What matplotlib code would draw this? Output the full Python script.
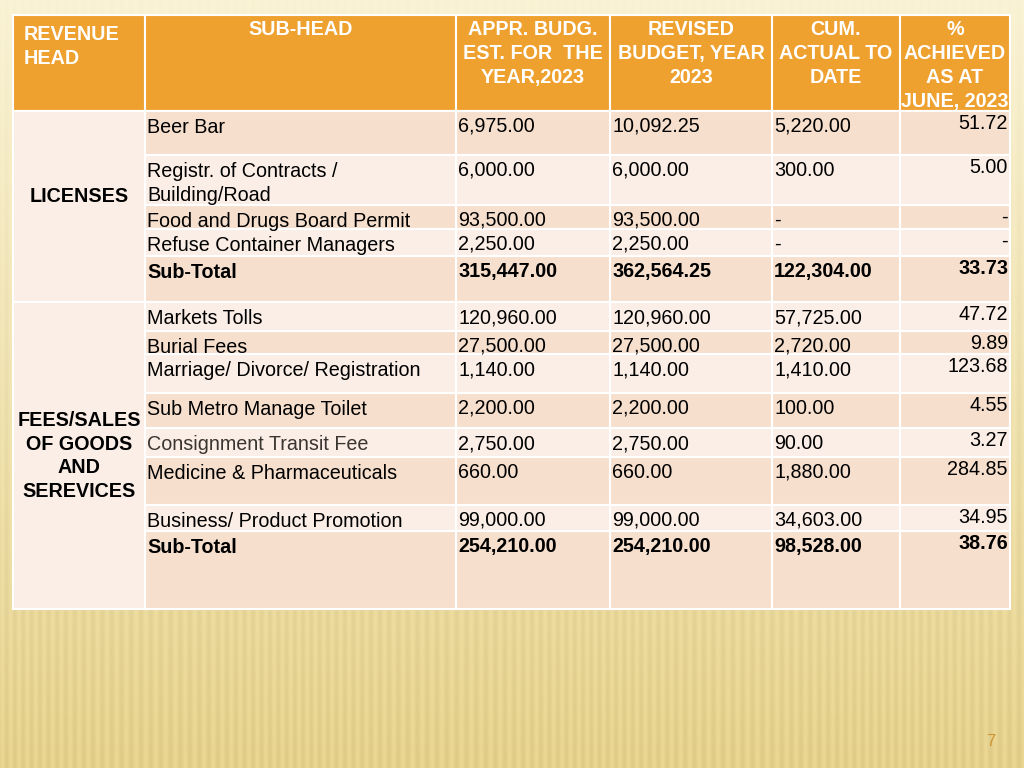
import numpy as np
import matplotlib.pyplot as plt
from matplotlib.patches import Rectangle

plt.rcParams['font.family'] = ['Liberation Sans', 'DejaVu Sans']

# table data
headers = ["REVENUE\nHEAD", "SUB-HEAD", "APPR. BUDG.\nEST. FOR  THE\nYEAR,2023",
           "REVISED\nBUDGET, YEAR\n2023", "CUM.\nACTUAL TO\nDATE",
           "%\nACHIEVED\nAS AT\nJUNE, 2023"]

groups = ["LICENSES", "FEES/SALES\nOF GOODS\nAND\nSEREVICES"]
group_sizes = [5, 8]

sub_heads = ["Beer Bar", "Registr. of Contracts /\nBuilding/Road", "Food and Drugs Board Permit",
             "Refuse Container Managers", "Sub-Total",
             "Markets Tolls", "Burial Fees", "Marriage/ Divorce/ Registration",
             "Sub Metro Manage Toilet", "Consignment Transit Fee",
             "Medicine & Pharmaceuticals", "Business/ Product Promotion", "Sub-Total"]
appr_budget = [6975.00, 6000.00, 93500.00, 2250.00, 315447.00,
               120960.00, 27500.00, 1140.00, 2200.00, 2750.00, 660.00, 99000.00, 254210.00]
revised_budget = [10092.25, 6000.00, 93500.00, 2250.00, 362564.25,
                  120960.00, 27500.00, 1140.00, 2200.00, 2750.00, 660.00, 99000.00, 254210.00]
cum_actual = [5220.00, 300.00, None, None, 122304.00,
              57725.00, 2720.00, 1410.00, 100.00, 90.00, 1880.00, 34603.00, 98528.00]
pct_achieved = [51.72, 5.00, None, None, 33.73,
                47.72, 9.89, 123.68, 4.55, 3.27, 284.85, 34.95, 38.76]
is_total = [False, False, False, False, True,
            False, False, False, False, False, False, False, True]

# layout (pixel coordinates)
col_edges = [13, 145, 456, 610, 772, 900, 1010]
header_top, header_bot = 15, 111
row_edges = [111, 155, 205, 229, 256, 302, 331, 354, 393, 428, 457, 505, 531, 609]

orange = "#EFA12F"
dark = "#F6DFCD"
light = "#FBEEE6"
fs = 14.2
ls = 1.33

fig = plt.figure(figsize=(10.24, 7.68), dpi=100)
ax = fig.add_axes([0, 0, 1, 1])
ax.set_xlim(0, 1024)
ax.set_ylim(768, 0)
ax.axis('off')

# golden background with soft streaks
yy, xx = np.mgrid[0:768, 0:1024]
t = (yy / 767.0)[..., None]
top_c = np.array([249, 242, 212]) / 255.0
bot_c = np.array([229, 209, 140]) / 255.0
bg = top_c * (1 - t) + bot_c * t
streak = 0.02 * np.sin(xx * 0.7 + 3.0 * np.sin(xx * 0.021)) * (0.2 + yy / 767.0)
bg = np.clip(bg + streak[..., None], 0, 1)
ax.imshow(bg, extent=[0, 1024, 768, 0], aspect='auto', zorder=0)


def cell(x0, x1, y0, y1, color):
    ax.add_patch(Rectangle((x0, y0), x1 - x0, y1 - y0, facecolor=color,
                           edgecolor="white", lw=1.5, zorder=1))


# header
for i, h in enumerate(headers):
    cell(col_edges[i], col_edges[i + 1], header_top, header_bot, orange)
    if i == 0:
        ax.text(col_edges[0] + 11, 25, h, ha='left', va='top', color='white',
                fontsize=fs, fontweight='bold', linespacing=ls, zorder=3)
    else:
        xc = (col_edges[i] + col_edges[i + 1]) / 2
        ax.text(xc, 20, h, ha='center', va='top', color='white',
                fontsize=fs, fontweight='bold', linespacing=ls, zorder=3)

# group cells
start = 0
for k, (g, n) in enumerate(zip(groups, group_sizes)):
    y0, y1 = row_edges[start], row_edges[start + n]
    cell(col_edges[0], col_edges[1], y0, y1, light)
    ymid = [196, 456][k]
    ax.text((col_edges[0] + col_edges[1]) / 2, ymid, g, ha='center', va='center',
            fontsize=fs, fontweight='bold', color='black', linespacing=ls, zorder=3)
    start += n


def fmt(v):
    return "-" if v is None else f"{v:,.2f}"


for r in range(len(sub_heads)):
    y0, y1 = row_edges[r], row_edges[r + 1]
    color = dark if r % 2 == 0 else light
    for c in range(1, 6):
        cell(col_edges[c], col_edges[c + 1], y0, y1, color)
    w = 'bold' if is_total[r] else 'normal'
    base = y0 + 21
    tcol = '#3a3530' if sub_heads[r] == "Consignment Transit Fee" else 'black'
    ax.text(col_edges[1] + 2, y0 + 7, sub_heads[r], ha='left', va='top',
            fontsize=fs, fontweight=w, color=tcol, linespacing=ls, zorder=3)
    for c, vals in zip([2, 3, 4], [appr_budget, revised_budget, cum_actual]):
        ax.text(col_edges[c] + 2, base, fmt(vals[r]), ha='left', va='baseline',
                fontsize=fs, fontweight=w, color='black', zorder=3)
    ax.text(col_edges[6] - 2, base - 3, fmt(pct_achieved[r]), ha='right', va='baseline',
            fontsize=fs, fontweight=w, color='black', zorder=3)

# page number
ax.text(991, 741, "7", ha='center', va='center', fontsize=12, color='#CF9434', zorder=3)

fig.savefig("out.png", dpi=100)
